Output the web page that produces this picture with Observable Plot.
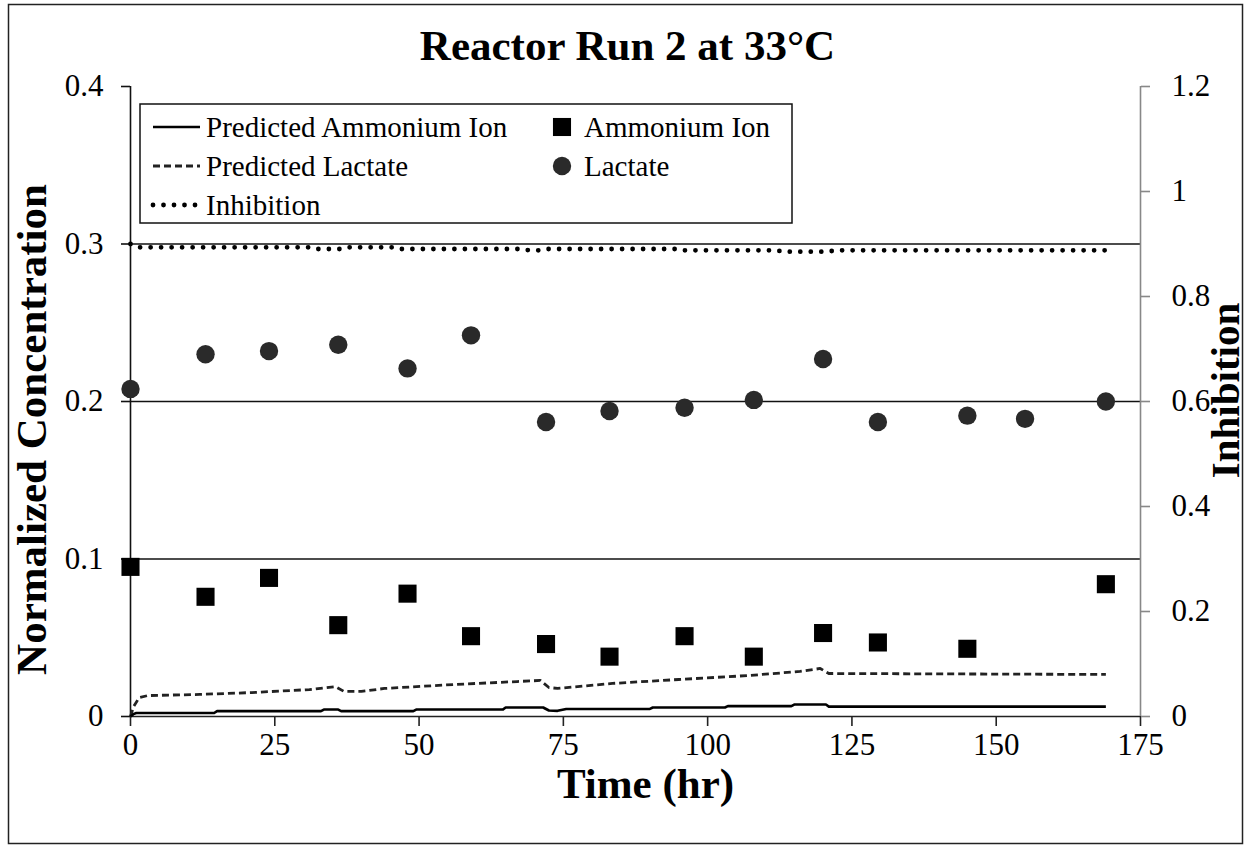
<!DOCTYPE html>
<html>
<head>
<meta charset="utf-8">
<script src="https://cdn.jsdelivr.net/npm/d3@7"></script>
<script src="https://cdn.jsdelivr.net/npm/@observablehq/plot@0.6"></script>
<style>
  body { margin: 0; background: #fff; }
  #chart { position: relative; width: 1250px; height: 848px; background: #fff;
           font-family: "Liberation Serif", "Times New Roman", serif; }
  #chart > svg { position: absolute; left: 0; top: 0; }
</style>
</head>
<body>
<div id="chart"></div>
<script>
// ---- text ----
const title = "Reactor Run 2 at 33°C";
const xLabel = "Time (hr)";
const yLabel = "Normalized Concentration";
const y2Label = "Inhibition";

// ---- axis ticks ----
const xTicks = [0, 25, 50, 75, 100, 125, 150, 175];
const leftTicks = [0, 0.1, 0.2, 0.3, 0.4];
const rightTicks = [0, 0.2, 0.4, 0.6, 0.8, 1, 1.2];
const gridValues = [0.1, 0.2, 0.3];

// ---- measured samples ----
const lactateHours = [0, 13, 24, 36, 48, 59, 72, 83, 96, 108, 120, 129.5, 145, 155, 169];
const lactate      = [0.208, 0.230, 0.232, 0.236, 0.221, 0.242, 0.187, 0.194, 0.196, 0.201, 0.227, 0.187, 0.191, 0.189, 0.200];
const ammoniumHours = [0, 13, 24, 36, 48, 59, 72, 83, 96, 108, 120, 129.5, 145, 169];
const ammonium      = [0.095, 0.076, 0.088, 0.058, 0.078, 0.051, 0.046, 0.038, 0.051, 0.038, 0.053, 0.047, 0.043, 0.084];

// ---- model predictions ----
const predAmmoniumHours = [0, 0.5, 1, 14.5, 15, 33, 33.5, 36, 36.5, 49, 49.5, 64.5, 65, 71.5, 72.5, 74, 75.5, 90, 90.5, 103, 103.5, 114.5, 115, 120.5, 121, 169];
const predAmmonium      = [0, 0.0015, 0.0022, 0.0022, 0.0034, 0.0034, 0.0044, 0.0044, 0.0034, 0.0034, 0.0044, 0.0044, 0.0057, 0.0057, 0.0038, 0.0036, 0.0048, 0.0048, 0.0057, 0.0057, 0.0066, 0.0066, 0.0076, 0.0076, 0.0063, 0.0063];
const predLactateHours = [0, 0.5, 1.5, 3, 12, 21, 31, 35.5, 37, 40, 44, 56, 67, 71, 72.5, 74, 83.5, 95, 107, 116, 119.5, 121, 169];
const predLactate      = [0, 0.006, 0.012, 0.0133, 0.014, 0.0152, 0.0171, 0.019, 0.0159, 0.0159, 0.0178, 0.0203, 0.0222, 0.0229, 0.0184, 0.0178, 0.021, 0.0235, 0.026, 0.0286, 0.0305, 0.0273, 0.0267];
const inhibitionHours = [0, 1, 31, 32, 37, 38, 46, 47, 68, 69, 71, 72, 95, 96, 112, 113, 121, 122, 169];
const inhibition      = [0.900, 0.8937, 0.8937, 0.8905, 0.8905, 0.8937, 0.8937, 0.8905, 0.8905, 0.888, 0.888, 0.8905, 0.8905, 0.888, 0.888, 0.8853, 0.8853, 0.888, 0.888];

// The right axis (0–1.2) shares the frame with the left axis (0–0.4).
const Y2 = 1.2 / 0.4;

// ---- series styles (shared by the plot and the legend) ----
const lineStyles = {
  ammonium:   {label: "Predicted Ammonium Ion", stroke: "#000", strokeWidth: 2.6, dash: null, cap: "butt"},
  lactate:    {label: "Predicted Lactate", stroke: "#222", strokeWidth: 2.8, dash: "7,4", cap: "butt"},
  inhibition: {label: "Inhibition", stroke: "#000", strokeWidth: 4.8, dash: "0,10.5", cap: "round"}
};
const dotStyles = {
  ammonium: {label: "Ammonium Ion", symbol: "square", fill: "#000", r: 10.2},
  lactate:  {label: "Lactate", symbol: "circle", fill: "#2a2a2a", r: 9.2}
};

const rows = (hours, vals, k = 1) => hours.map((t, i) => ({t, v: vals[i] / k}));
const fmt = d => String(+d.toFixed(2));
const serif = "Liberation Serif, Times New Roman, serif";
const tickFont = 31;
const legendFont = 29;
const titleFont = 43;
const axisTitleFont = 43;

const lineMark = (data, s) => Plot.line(data, {
  x: "t", y: "v", stroke: s.stroke, strokeWidth: s.strokeWidth,
  strokeDasharray: s.dash ?? undefined, strokeLinecap: s.cap, strokeLinejoin: "round"
});

const chart = Plot.plot({
  width: 1250,
  height: 848,
  marginLeft: 130,
  marginRight: 110,
  marginTop: 86,
  marginBottom: 132,
  style: {fontFamily: serif, fontSize: `${tickFont}px`, color: "#000", background: "transparent", overflow: "visible"},
  x: {domain: [0, 175]},
  y: {domain: [0, 0.4]},
  marks: [
    Plot.ruleY(gridValues, {stroke: "#111", strokeWidth: 1.6}),
    Plot.ruleY([0], {stroke: "#222", strokeWidth: 1.6}),
    Plot.ruleX([0], {stroke: "#111", strokeWidth: 1.6}),
    Plot.ruleX([175], {stroke: "#888", strokeWidth: 1.6}),
    Plot.axisX(xTicks, {tickSize: 10, tickPadding: 6, stroke: "#222", strokeWidth: 1.6, tickFormat: fmt, fontSize: tickFont, label: null}),
    Plot.axisY(leftTicks, {anchor: "left", tickSize: 9, tickPadding: 18, stroke: "#111", strokeWidth: 1.6, tickFormat: fmt, fontSize: tickFont, label: null}),
    Plot.axisY(rightTicks.map(v => v / Y2), {anchor: "right", tickSize: 9, tickPadding: 22, stroke: "#888", strokeWidth: 1.6, tickFormat: d => fmt(d * Y2), fontSize: tickFont, label: null}),

    lineMark(rows(predLactateHours, predLactate), lineStyles.lactate),
    lineMark(rows(predAmmoniumHours, predAmmonium), lineStyles.ammonium),
    lineMark(rows(inhibitionHours, inhibition, Y2), lineStyles.inhibition),

    Plot.dot(rows(lactateHours, lactate), {x: "t", y: "v", symbol: "circle", r: dotStyles.lactate.r, fill: dotStyles.lactate.fill, stroke: "none"}),
    Plot.dot(rows(ammoniumHours, ammonium), {x: "t", y: "v", symbol: "square", r: dotStyles.ammonium.r, fill: dotStyles.ammonium.fill, stroke: "none"}),

    Plot.text([title], {text: d => d, frameAnchor: "top", lineAnchor: "middle", textAnchor: "middle", dx: -8, dy: -40, fontSize: titleFont, fontWeight: "bold", fill: "#000"}),
    Plot.text([xLabel], {text: d => d, frameAnchor: "bottom", lineAnchor: "middle", textAnchor: "middle", dx: 10, dy: 68, fontSize: axisTitleFont, fontWeight: "bold", fill: "#000"}),
    Plot.text([yLabel], {text: d => d, frameAnchor: "left", lineAnchor: "middle", textAnchor: "middle", dx: -98, dy: 28, rotate: -90, fontSize: axisTitleFont, fontWeight: "bold", fill: "#000"}),
    Plot.text([y2Label], {text: d => d, frameAnchor: "right", lineAnchor: "middle", textAnchor: "middle", dx: 85, dy: -11, rotate: -90, fontSize: 41, fontWeight: "bold", fill: "#000"})
  ]
});
document.getElementById("chart").appendChild(chart);

// ---- chart border and legend, drawn on an overlay ----
const overlay = d3.select("#chart").append("svg")
  .attr("width", 1250).attr("height", 848)
  .style("pointer-events", "none");

overlay.append("rect")
  .attr("x", 8.5).attr("y", 4.5).attr("width", 1234).attr("height", 839)
  .attr("fill", "none").attr("stroke", "#222").attr("stroke-width", 1.5);

const legend = overlay.append("g").attr("transform", "translate(140,104)");
legend.append("rect")
  .attr("width", 652).attr("height", 119)
  .attr("fill", "#fff").attr("stroke", "#111").attr("stroke-width", 1.5);

const rowY = [23, 62, 101];
[lineStyles.ammonium, lineStyles.lactate, lineStyles.inhibition].forEach((s, i) => {
  legend.append("line")
    .attr("x1", 13).attr("x2", 60).attr("y1", rowY[i]).attr("y2", rowY[i])
    .attr("stroke", s.stroke).attr("stroke-width", s.strokeWidth)
    .attr("stroke-dasharray", s.dash).attr("stroke-linecap", s.cap);
  legend.append("text")
    .attr("x", 66).attr("y", rowY[i]).attr("dy", "0.35em")
    .attr("font-family", serif).attr("font-size", legendFont)
    .text(s.label);
});

[dotStyles.ammonium, dotStyles.lactate].forEach((s, i) => {
  const sym = s.symbol === "square" ? d3.symbolSquare : d3.symbolCircle;
  legend.append("path")
    .attr("transform", `translate(422,${rowY[i]})`)
    .attr("d", d3.symbol(sym, Math.PI * s.r * s.r)())
    .attr("fill", s.fill);
  legend.append("text")
    .attr("x", 444).attr("y", rowY[i]).attr("dy", "0.35em")
    .attr("font-family", serif).attr("font-size", legendFont)
    .text(s.label);
});
</script>
</body>
</html>
